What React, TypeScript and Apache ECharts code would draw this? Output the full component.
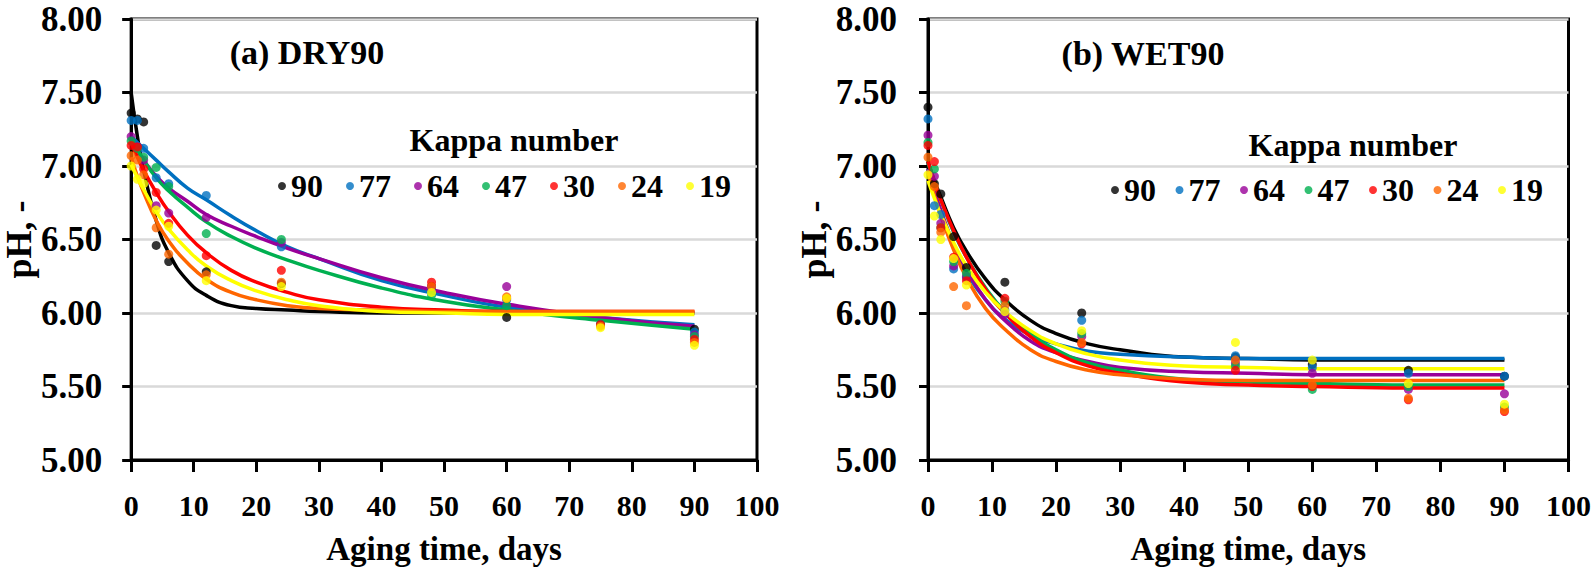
import React, { useEffect, useRef } from "react";
import * as echarts from "echarts";

const days = [0, 1, 2, 4, 6, 12, 24, 48, 60, 75, 90];
const kappa = ["90", "77", "64", "47", "30", "24", "19"];
const colors = ["#000000", "#0070C0", "#990099", "#00B050", "#FF0000", "#FF6600", "#FFFF00"];
const xTicks = [0, 10, 20, 30, 40, 50, 60, 70, 80, 90, 100];
const yTicks = [5.0, 5.5, 6.0, 6.5, 7.0, 7.5, 8.0];

// (a) DRY90 measured pH
const dry90 = [7.36, 7.32, 7.30, 6.46, 6.35, 6.28, 6.20, 6.18, 5.97, 5.92, 5.89];
const dry77 = [7.31, 7.31, 7.12, 6.92, 6.88, 6.80, 6.45, 6.17, 6.09, 5.92, 5.87];
const dry64 = [7.20, 7.13, 7.04, 6.73, 6.68, 6.65, 6.48, 6.18, 6.18, 5.92, 5.85];
const dry47 = [7.17, 7.12, 7.06, 6.99, 6.86, 6.54, 6.50, 6.12, 6.05, 5.92, 5.84];
const dry30 = [7.14, 7.13, 6.98, 6.82, 6.61, 6.39, 6.29, 6.21, 6.10, 5.92, 5.82];
const dry24 = [7.07, 7.04, 6.94, 6.58, 6.40, 6.26, 6.21, 6.18, 6.11, 5.91, 5.80];
const dry19 = [7.00, 6.91, 6.88, 6.70, 6.59, 6.22, 6.18, 6.14, 6.10, 5.90, 5.78];

// (b) WET90 measured pH
const wet90 = [7.40, 6.88, 6.81, 6.52, 6.31, 6.21, 6.00, 5.70, 5.65, 5.61, 5.57];
const wet77 = [7.32, 6.73, 6.67, 6.30, 6.24, 6.02, 5.95, 5.71, 5.63, 5.59, 5.57];
const wet64 = [7.21, 6.93, 6.61, 6.32, 6.25, 5.99, 5.84, 5.66, 5.59, 5.48, 5.45];
const wet47 = [7.16, 6.98, 6.58, 6.35, 6.27, 6.08, 5.86, 5.64, 5.48, 5.50, 5.36];
const wet30 = [7.14, 7.03, 6.58, 6.38, 6.22, 6.10, 5.79, 5.61, 5.50, 5.41, 5.33];
const wet24 = [7.06, 6.86, 6.55, 6.18, 6.05, 6.05, 5.80, 5.68, 5.51, 5.42, 5.34];
const wet19 = [6.94, 6.66, 6.50, 6.37, 6.19, 6.01, 5.88, 5.80, 5.68, 5.52, 5.38];

// fitted trend curves
const curveDays = [0, 1, 2, 4, 6, 9, 12, 16, 20, 25, 30, 40, 50, 60, 75, 90];
const dryFit90 = [7.50, 7.20, 6.97, 6.63, 6.41, 6.22, 6.12, 6.05, 6.03, 6.02, 6.01, 6.00, 6.00, 6.00, 6.00, 6.00];
const dryFit77 = [7.20, 7.16, 7.12, 7.04, 6.96, 6.85, 6.77, 6.66, 6.56, 6.45, 6.37, 6.22, 6.12, 6.04, 5.97, 5.92];
const dryFit64 = [7.19, 7.11, 7.04, 6.93, 6.85, 6.76, 6.67, 6.59, 6.52, 6.44, 6.37, 6.24, 6.14, 6.06, 5.97, 5.91];
const dryFit47 = [7.18, 7.11, 7.04, 6.92, 6.83, 6.72, 6.62, 6.52, 6.44, 6.36, 6.29, 6.17, 6.08, 6.02, 5.95, 5.89];
const dryFit30 = [7.16, 7.06, 6.97, 6.82, 6.69, 6.53, 6.41, 6.29, 6.21, 6.14, 6.09, 6.04, 6.02, 6.01, 6.01, 6.01];
const dryFit24 = [7.06, 6.93, 6.82, 6.63, 6.49, 6.34, 6.23, 6.14, 6.09, 6.05, 6.03, 6.02, 6.01, 6.01, 6.01, 6.01];
const dryFit19 = [7.01, 6.92, 6.84, 6.69, 6.57, 6.43, 6.32, 6.22, 6.15, 6.09, 6.05, 6.01, 6.00, 5.99, 5.99, 5.99];

const wetFit90 = [7.03, 6.90, 6.79, 6.58, 6.42, 6.23, 6.09, 5.95, 5.86, 5.79, 5.75, 5.70, 5.69, 5.68, 5.68, 5.68];
const wetFit77 = [6.98, 6.82, 6.68, 6.46, 6.28, 6.09, 5.96, 5.85, 5.79, 5.74, 5.72, 5.70, 5.69, 5.69, 5.69, 5.69];
const wetFit64 = [6.98, 6.83, 6.70, 6.47, 6.30, 6.09, 5.95, 5.81, 5.73, 5.67, 5.63, 5.60, 5.59, 5.58, 5.58, 5.58];
const wetFit47 = [7.02, 6.89, 6.77, 6.55, 6.38, 6.17, 6.01, 5.86, 5.75, 5.66, 5.61, 5.55, 5.53, 5.52, 5.51, 5.51];
const wetFit30 = [7.03, 6.89, 6.77, 6.56, 6.38, 6.16, 6.00, 5.84, 5.73, 5.64, 5.59, 5.53, 5.51, 5.50, 5.49, 5.49];
const wetFit24 = [6.96, 6.80, 6.66, 6.43, 6.24, 6.03, 5.89, 5.75, 5.67, 5.61, 5.58, 5.55, 5.54, 5.54, 5.54, 5.54];
const wetFit19 = [6.90, 6.78, 6.67, 6.48, 6.32, 6.14, 6.01, 5.88, 5.79, 5.72, 5.68, 5.64, 5.63, 5.62, 5.62, 5.62];

const dryPoints = [dry90, dry77, dry64, dry47, dry30, dry24, dry19];
const wetPoints = [wet90, wet77, wet64, wet47, wet30, wet24, wet19];
const dryFits = [dryFit90, dryFit77, dryFit64, dryFit47, dryFit30, dryFit24, dryFit19];
const wetFits = [wetFit90, wetFit77, wetFit64, wetFit47, wetFit30, wetFit24, wetFit19];

const panelTitles = ["(a) DRY90", "(b) WET90"];
const legendTitle = "Kappa number";
const xName = "Aging time, days";
const yName = "pH, -";

const FONT = "'Liberation Serif', 'Times New Roman', serif";

export default function App() {
  const ref = useRef<HTMLDivElement>(null);

  useEffect(() => {
    if (!ref.current) return;
    const chart = echarts.init(ref.current, null, { renderer: "svg" });

    const grids = [
      { left: 126, top: 19, width: 631, height: 441 },
      { left: 928, top: 19, width: 643, height: 441 },
    ];

    const xAxes = grids.map((_, i) => ({
      type: "value",
      gridIndex: i,
      min: xTicks[0],
      max: xTicks[xTicks.length - 1],
      interval: 10,
      name: xName,
      nameLocation: "middle",
      nameGap: 72,
      nameTextStyle: { fontFamily: FONT, fontWeight: "bold", fontSize: 33, color: "#000" },
      axisLine: { show: true, onZero: false, lineStyle: { color: "#000", width: 3 } },
      axisTick: { show: true, inside: false, length: 12, lineStyle: { color: "#000", width: 3 } },
      axisLabel: { margin: 30, fontFamily: FONT, fontWeight: "bold", fontSize: 30, color: "#000" },
      splitLine: { show: false },
    }));

    const yAxes = grids.map((_, i) => ({
      type: "value",
      gridIndex: i,
      min: yTicks[0],
      max: yTicks[yTicks.length - 1],
      interval: 0.5,
      name: yName,
      nameLocation: "middle",
      nameGap: 84,
      nameTextStyle: { fontFamily: FONT, fontWeight: "bold", fontSize: 36, color: "#000" },
      axisLine: { show: true, onZero: false, lineStyle: { color: "#000", width: 3 } },
      axisTick: { show: true, inside: false, length: 9, lineStyle: { color: "#000", width: 3 } },
      axisLabel: {
        margin: i === 0 ? 29 : 31,
        fontFamily: FONT,
        fontWeight: "bold",
        fontSize: 35,
        color: "#000",
        formatter: (v: number) => v.toFixed(2),
      },
      splitLine: { show: true, lineStyle: { color: "#d9d9d9", width: 2.5 } },
    }));

    const series: any[] = [];
    [dryPoints, wetPoints].forEach((panel, p) => {
      panel.forEach((vals, k) => {
        series.push({
          name: kappa[k],
          type: "scatter",
          xAxisIndex: p,
          yAxisIndex: p,
          symbol: "circle",
          symbolSize: 9,
          itemStyle: { color: colors[k] },
          z: 4,
          data: days.map((d, j) => [d, vals[j]]),
        });
      });
    });
    [dryFits, wetFits].forEach((panel, p) => {
      panel.forEach((vals, k) => {
        series.push({
          name: kappa[k],
          type: "line",
          xAxisIndex: p,
          yAxisIndex: p,
          showSymbol: false,
          symbol: "none",
          smooth: 0.5,
          lineStyle: { color: colors[k], width: 3.5 },
          itemStyle: { color: colors[k] },
          z: 2 + k * 0.01,
          data: curveDays.map((d, j) => [d, vals[j]]),
        });
      });
    });

    const legendBase = {
      data: kappa,
      orient: "horizontal",
      icon: "circle",
      itemWidth: 8,
      itemHeight: 8,
      padding: 0,
      selectedMode: false,
      textStyle: { fontFamily: FONT, fontWeight: "bold", fontSize: 32, color: "#000", lineHeight: 32 },
    };

    const textStyle = (text: string, size: number) => ({
      text,
      fontFamily: FONT,
      fontWeight: "bold",
      fontSize: size,
      fill: "#000",
      textAlign: "center",
      textVerticalAlign: "middle",
    });

    chart.setOption({
      animation: false,
      backgroundColor: "#ffffff",
      grid: grids.map((g) => ({ ...g, show: true, borderColor: "#000", borderWidth: 3, backgroundColor: "transparent", containLabel: false })),
      xAxis: xAxes,
      yAxis: yAxes,
      legend: [
        { ...legendBase, left: 278, top: 170, itemGap: 23 },
        { ...legendBase, left: 1111, top: 174, itemGap: 19.5 },
      ],
      graphic: [
        { type: "text", x: 307, y: 52, style: textStyle(panelTitles[0], 34) },
        { type: "text", x: 1143, y: 53, style: textStyle(panelTitles[1], 34) },
        { type: "text", x: 514, y: 140, style: textStyle(legendTitle, 32) },
        { type: "text", x: 1353, y: 145, style: textStyle(legendTitle, 32) },
      ],
      series,
    });

    return () => chart.dispose();
  }, []);

  return (
    <div
      ref={ref}
      style={{ position: "fixed", left: 0, top: 0, width: 1594, height: 578, background: "#fff" }}
    />
  );
}
